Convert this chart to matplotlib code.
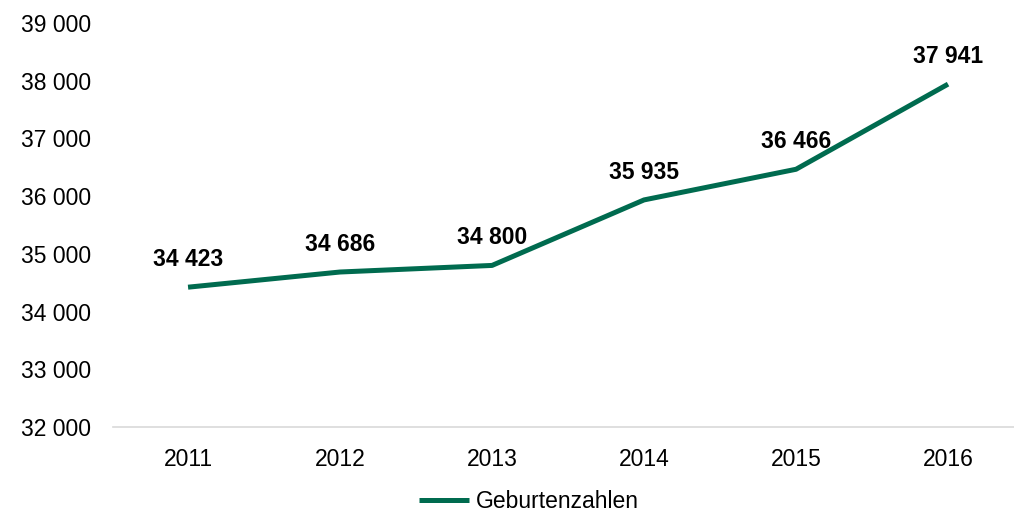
import matplotlib
matplotlib.use("Agg")
import matplotlib.pyplot as plt

years = ["2011", "2012", "2013", "2014", "2015", "2016"]
births = [34423, 34686, 34800, 35935, 36466, 37941]
y_ticks = [32000, 33000, 34000, 35000, 36000, 37000, 38000, 39000]

green = "#006B4F"

plt.rcParams["font.family"] = ["Liberation Sans", "DejaVu Sans"]

def fmt(v):
    return f"{v:,}".replace(",", " ")

fig = plt.figure(figsize=(10.14, 5.17), dpi=100)
ax = fig.add_axes([0.1114, 0.174, 0.8886, 0.7815])

x = list(range(len(years)))
line, = ax.plot(x, births, color=green, linewidth=3.6, solid_capstyle="butt",
                label="Geburtenzahlen")

for xi, v in zip(x, births):
    ax.annotate(fmt(v), (xi, v), xytext=(0, 20), textcoords="offset points",
                ha="center", va="center", fontsize=16.5, fontweight="bold")

ax.set_xlim(-0.494, 5.434)
ax.set_ylim(32000, 39000)
ax.set_xticks(x)
ax.set_xticklabels(years)
ax.set_yticks(y_ticks)
ax.set_yticklabels([fmt(t) for t in y_ticks])
ax.tick_params(axis="both", length=0, labelsize=16.5)
ax.tick_params(axis="y", pad=16)
ax.tick_params(axis="x", pad=15)

for s in ["top", "right", "left"]:
    ax.spines[s].set_visible(False)
ax.spines["bottom"].set_color("#D9D9D9")
ax.spines["bottom"].set_linewidth(1.2)

fig.legend(handles=[line], loc="center", bbox_to_anchor=(0.5217, 0.030),
           frameon=False, fontsize=16.5, handlelength=2.2, handletextpad=0.3)

fig.savefig("out.png", dpi=100)
